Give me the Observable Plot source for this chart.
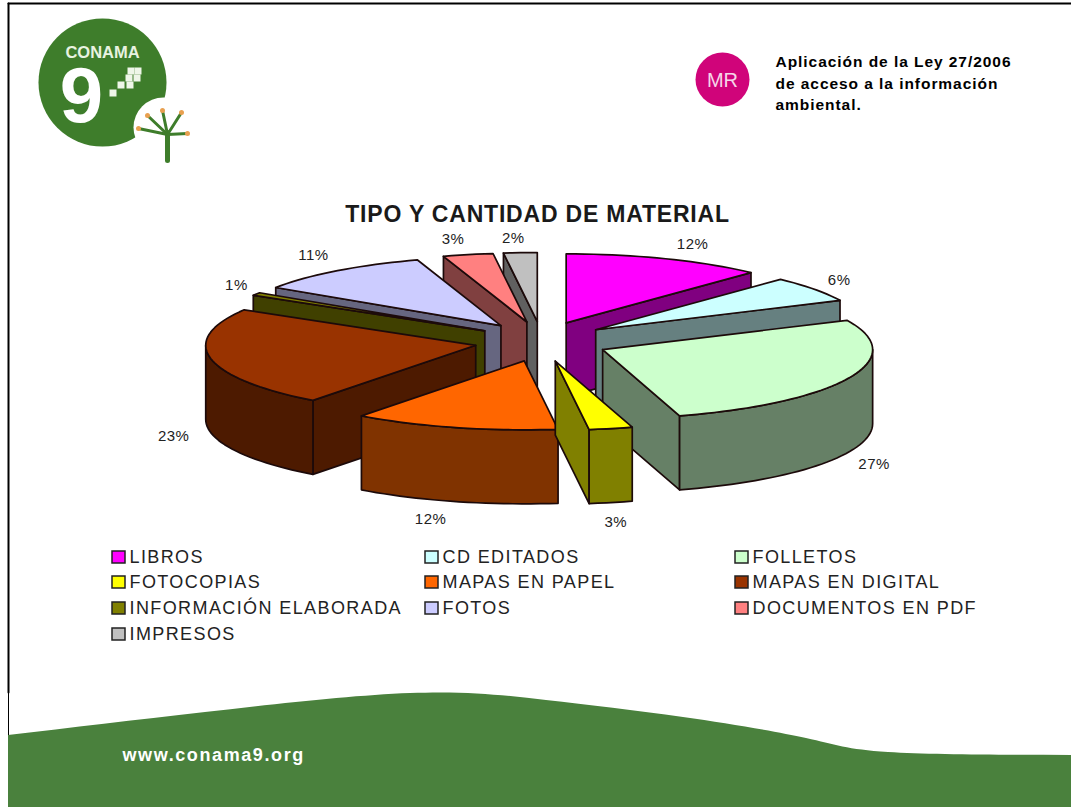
<!DOCTYPE html>
<html lang="es">
<head>
<meta charset="utf-8">
<title>Tipo y cantidad de material</title>
<script src="https://cdn.jsdelivr.net/npm/d3@7"></script>
<script src="https://cdn.jsdelivr.net/npm/@observablehq/plot@0.6"></script>
<style>
html,body{margin:0;padding:0;background:#fff}
svg{display:block}
.legend-label{letter-spacing:1.4px}
.chart-title{letter-spacing:.8px}
.pct{letter-spacing:.5px}
.note{letter-spacing:.95px}
.url{letter-spacing:1.6px}
</style>
</head>
<body>
<div id="chart"></div>
<script>
// ---- data ----
const categories = ["LIBROS","CD EDITADOS","FOLLETOS","FOTOCOPIAS","MAPAS EN PAPEL","MAPAS EN DIGITAL","INFORMACIÓN ELABORADA","FOTOS","DOCUMENTOS EN PDF","IMPRESOS"];
// shares; the printed labels are these values rounded
const shares = [12,6,27.4,2.6,12.3,23.3,0.7,10.7,3,2];
const topColors = ["#ff00ff","#ccffff","#ccffcc","#ffff00","#ff6600","#993300","#808000","#ccccff","#ff8080","#c0c0c0"];
const wallColors = ["#800080","#668080","#668066","#808000","#803300","#4d1a00","#404000","#666680","#804040","#606060"];
const drawOrder = [0,9,8,1,7,6,5,2,4,3];
const labelNudge = [[27,-15],[25,-9],[25,86],[5,94],[-24,92],[-37,78],[-20,-9],[-24,-15],[-15,-15],[-7,-14]];

const bandX = [8,205,410,546,683,806,888,1071];
const bandY = [735,712,693,700,717,738,752,755];
const pixelX = [113,121,130,129,137,131,138];
const pixelY = [93,85,85,78,78,71,71];
const plantX = [138,147,162,181,187];
const plantY = [128,115,110,112,133];

// ---- pie geometry ----
const C = {x:541,y:341}, RX = 270, RY = 69, DEPTH = 74, EX = 67, EY = 20;
const rad = d => d*Math.PI/180;
const total = d3.sum(shares);
let acc = 0;
const slices = shares.map((v,i) => {
  const a0 = acc/total*360; acc += v; const a1 = acc/total*360;
  const m = rad((a0+a1)/2);
  return {i,a0,a1,m,ax:C.x+EX*Math.sin(m),ay:C.y-EY*Math.cos(m)};
});
const rim = (s,a,dz=0) => ({x:s.ax+RX*Math.sin(rad(a)),y:s.ay-RY*Math.cos(rad(a))+dz});
const arcPts = (s,a,b,dz=0) => {
  const n = Math.max(2,Math.ceil(Math.abs(b-a)/2));
  return d3.range(n+1).map(k => rim(s,a+(b-a)*k/n,dz));
};
const poly = (pts,fill) => Plot.line([...pts,pts[0]],{x:"x",y:"y",fill,stroke:"#1c0a0a",strokeWidth:1.7,strokeLinejoin:"round"});

const pieMarks = [];
for (const idx of drawOrder) {
  const s = slices[idx], wall = wallColors[idx];
  const apex = {x:s.ax,y:s.ay}, apexLow = {x:s.ax,y:s.ay+DEPTH};
  if (Math.sin(rad(s.a0)) < -1e-6) pieMarks.push(poly([apex,rim(s,s.a0),rim(s,s.a0,DEPTH),apexLow],wall));
  if (Math.sin(rad(s.a1)) > 1e-6) pieMarks.push(poly([apex,rim(s,s.a1),rim(s,s.a1,DEPTH),apexLow],wall));
  const lo = Math.max(s.a0,90), hi = Math.min(s.a1,270);
  if (hi > lo) pieMarks.push(poly([...arcPts(s,lo,hi),...arcPts(s,hi,lo,DEPTH)],wall));
  pieMarks.push(poly([apex,...arcPts(s,s.a0,s.a1)],topColors[idx]));
}

const labelRows = slices.map((s,i) => {
  const p = rim(s,(s.a0+s.a1)/2);
  return {x:p.x+labelNudge[i][0],y:p.y+labelNudge[i][1],t:Math.round(shares[i])+"%"};
});

// ---- legend layout ----
const legendCols = [112,425,735], legendRows = [557,582,608,634];
const legendRowsData = categories.map((c,i) => ({
  name:c,color:topColors[i],
  x:legendCols[i%3],
  y:legendRows[Math.floor(i/3)]
}));

const band = bandX.map((x,i) => ({x,y:bandY[i]}));
const font = "'Liberation Sans', Arial, sans-serif";
const green = "#3e7d2b";

const plot = Plot.plot({
  width:1071,height:807,margin:0,
  x:{domain:[0,1071],range:[0,1071],axis:null},
  y:{domain:[0,807],range:[0,807],axis:null},
  style:{background:"#fff",fontFamily:font},
  marks:[
    // slide frame and footer band
    Plot.line([{x:8,y:3},{x:1071,y:3}],{x:"x",y:"y",stroke:"#000",strokeWidth:2}),
    Plot.line([{x:8,y:3},{x:8,y:692}],{x:"x",y:"y",stroke:"#000",strokeWidth:2}),
    Plot.line([{x:8,y:692},{x:8,y:807}],{x:"x",y:"y",stroke:"#000",strokeWidth:1}),
    Plot.areaY(band,{x:"x",y1:()=>807,y2:"y",curve:"natural",fill:"#4a813d"}),
    Plot.text(["www.conama9.org"],{x:()=>122,y:()=>755,text:d=>d,fill:"#fff",fontSize:18,fontWeight:"bold",textAnchor:"start",className:"url"}),
    // logo
    Plot.dot([0],{x:()=>102,y:()=>82,r:64,fill:green}),
    Plot.dot([0],{x:()=>163,y:()=>127,r:30,fill:"#fff"}),
    Plot.text(["CONAMA"],{x:()=>102,y:()=>52,text:d=>d,fill:"#e8f3e0",fontSize:16.5,fontWeight:"bold"}),
    Plot.text(["9"],{x:()=>81,y:()=>97,text:d=>d,fill:"#fff",fontSize:78,fontWeight:"bold"}),
    Plot.rect(pixelX,{x1:d=>d-3.5,x2:d=>d+3.5,y1:(d,i)=>pixelY[i]-3.5,y2:(d,i)=>pixelY[i]+3.5,fill:"#eef6e8"}),
    Plot.line([{x:167,y:160},{x:167,y:132}],{x:"x",y:"y",stroke:green,strokeWidth:5}),
    ...plantX.map((x,i) => Plot.line([{x:167,y:134},{x,y:plantY[i]}],{x:"x",y:"y",stroke:green,strokeWidth:3})),
    Plot.dot(plantX,{x:d=>d,y:(d,i)=>plantY[i],r:2.5,fill:"#e8a050"}),
    // header note
    Plot.dot([0],{x:()=>722,y:()=>79,r:27,fill:"#d0047a"}),
    Plot.text(["MR"],{x:()=>722,y:()=>80,text:d=>d,fill:"#f6d6e8",fontSize:20}),
    Plot.text(["Aplicación de la Ley 27/2006","de acceso a la información","ambiental."],{x:()=>775,y:(d,i)=>[62,84,105][i],text:d=>d,fill:"#000",fontSize:15.5,fontWeight:"bold",textAnchor:"start",className:"note"}),
    // chart title
    Plot.text(["TIPO Y CANTIDAD DE MATERIAL"],{x:()=>537,y:()=>214,text:d=>d,fill:"#1a1a1a",fontSize:23,fontWeight:"bold",className:"chart-title"}),
    // pie
    ...pieMarks,
    Plot.text(labelRows,{x:"x",y:"y",text:"t",fill:"#222",fontSize:15,className:"pct"}),
    // legend
    Plot.rect(legendRowsData,{x1:d=>d.x,x2:d=>d.x+13,y1:d=>d.y-6,y2:d=>d.y+6,fill:"color",stroke:"#222",strokeWidth:1.5}),
    Plot.text(legendRowsData,{x:d=>d.x+17,y:"y",text:"name",fill:"#222",fontSize:18,textAnchor:"start",className:"legend-label"})
  ],
  color:{type:"identity"}
});
document.getElementById("chart").appendChild(plot);
</script>
</body>
</html>
